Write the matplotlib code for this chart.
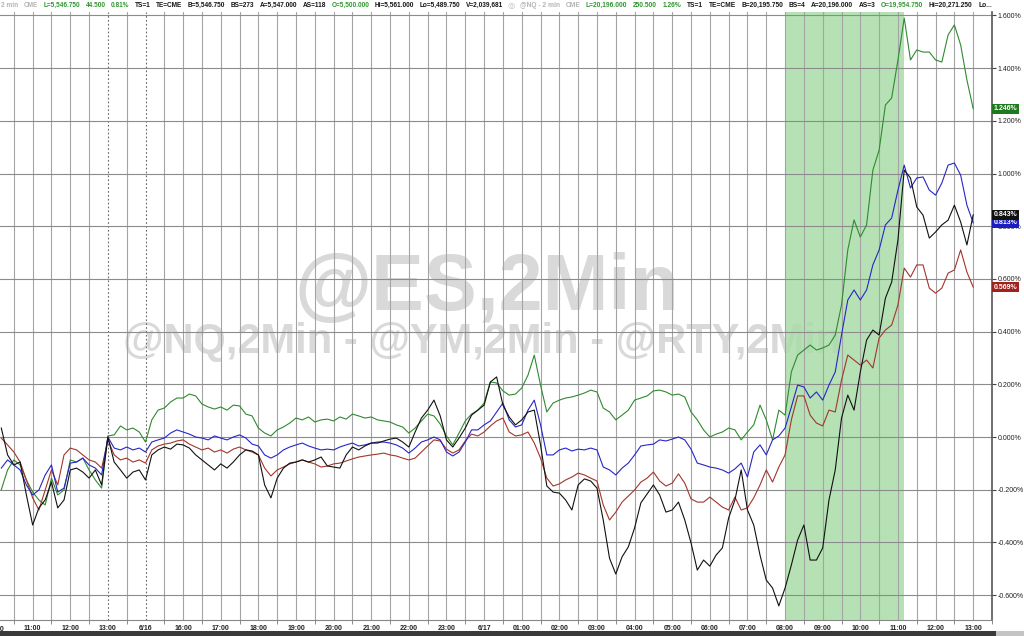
import numpy as np
import matplotlib.pyplot as plt
from matplotlib.patches import Rectangle
from matplotlib import transforms

# ten-minute samples, x counted in hours from the 10:00 start of the chart
step = 1 / 6

# percent change
nq = [-0.20, -0.125, -0.087, -0.106, -0.163, -0.209, -0.239, -0.258, -0.156, -0.220,
      -0.201, -0.087, -0.095, -0.080, -0.125, -0.163, -0.194, 0.004, 0.008, 0.042,
      0.027, 0.034, 0.019, -0.019, 0.065, 0.102, 0.110, 0.133, 0.148, 0.148,
      0.163, 0.156, 0.125, 0.114, 0.106, 0.114, 0.102, 0.121, 0.118, 0.087,
      0.080, 0.034, 0.015, 0.004, 0.027, 0.038, 0.053, 0.072, 0.065, 0.076,
      0.057, 0.065, 0.068, 0.061, 0.076, 0.068, 0.087, 0.080, 0.072, 0.076,
      0.065, 0.061, 0.057, 0.046, 0.038, 0.015, 0.034, 0.061, 0.087, 0.080,
      0.049, 0.004, -0.030, 0.015, 0.061, 0.087, 0.102, 0.129, 0.209, 0.205,
      0.175, 0.159, 0.163, 0.186, 0.235, 0.311, 0.197, 0.095, 0.129, 0.140,
      0.148, 0.152, 0.159, 0.167, 0.178, 0.171, 0.110, 0.095, 0.065, 0.083,
      0.102, 0.140, 0.148, 0.156, 0.175, 0.178, 0.171, 0.159, 0.163, 0.152,
      0.095, 0.065, 0.027, 0.0, 0.011, 0.019, 0.034, 0.027, -0.011, 0.019,
      0.046, 0.121, 0.065, -0.011, 0.102, 0.083, 0.247, 0.311, 0.330, 0.349,
      0.330, 0.338, 0.349, 0.387, 0.501, 0.710, 0.824, 0.759, 0.805, 1.013,
      1.089, 1.260, 1.287, 1.431, 1.590, 1.431, 1.469, 1.461, 1.461, 1.431,
      1.423, 1.526, 1.564, 1.488, 1.355, 1.246]

es = [-0.118, -0.087, -0.106, -0.125, -0.182, -0.220, -0.201, -0.144, -0.106, -0.209,
      -0.194, -0.099, -0.095, -0.080, -0.106, -0.118, -0.144, 0.0, -0.042, -0.049,
      -0.038, -0.049, -0.042, -0.057, -0.019, -0.011, -0.004, 0.015, 0.027, 0.019,
      0.011, 0.0, -0.004, -0.011, 0.004, -0.004, -0.011, 0.0, 0.008, -0.004,
      -0.027, -0.034, -0.068, -0.080, -0.068, -0.049, -0.038, -0.030, -0.023, -0.034,
      -0.042, -0.049, -0.046, -0.049, -0.038, -0.030, -0.023, -0.034, -0.030, -0.023,
      -0.019, -0.019, -0.023, -0.030, -0.042, -0.061, -0.042, -0.019, -0.011, 0.0,
      -0.011, -0.057, -0.072, -0.057, -0.019, 0.027, 0.027, 0.046, 0.061, 0.095,
      0.129, 0.065, 0.038, 0.046, 0.102, 0.140, 0.046, -0.068, -0.068, -0.049,
      -0.042, -0.053, -0.046, -0.049, -0.042, -0.049, -0.114, -0.125, -0.144, -0.118,
      -0.099, -0.068, -0.034, -0.030, -0.027, -0.011, -0.015, -0.008, 0.0, -0.011,
      -0.046, -0.099, -0.106, -0.114, -0.118, -0.125, -0.137, -0.121, -0.099, -0.152,
      -0.057, -0.030, -0.068, -0.011, 0.004, 0.034, 0.114, 0.197, 0.190, 0.148,
      0.171, 0.140, 0.197, 0.247, 0.387, 0.520, 0.558, 0.520, 0.558, 0.653,
      0.710, 0.805, 0.831, 0.937, 1.032, 0.945, 0.983, 0.987, 0.937, 0.918,
      0.964, 1.032, 1.040, 0.994, 0.880, 0.813]

ym = [-0.004, -0.030, -0.057, -0.095, -0.163, -0.231, -0.277, -0.201, -0.125, -0.182,
      -0.068, -0.042, -0.049, -0.068, -0.087, -0.095, -0.118, -0.011, -0.068, -0.087,
      -0.080, -0.095, -0.087, -0.099, -0.049, -0.034, -0.027, -0.023, -0.015, -0.011,
      -0.027, -0.038, -0.049, -0.042, -0.057, -0.049, -0.061, -0.046, -0.038, -0.049,
      -0.057, -0.068, -0.118, -0.148, -0.125, -0.114, -0.102, -0.095, -0.087, -0.095,
      -0.102, -0.114, -0.110, -0.102, -0.099, -0.091, -0.083, -0.076, -0.072, -0.068,
      -0.065, -0.061, -0.068, -0.072, -0.080, -0.087, -0.080, -0.057, -0.034, -0.011,
      -0.015, -0.046, -0.061, -0.049, -0.015, 0.011, 0.004, 0.019, 0.042, 0.061,
      0.072, 0.019, 0.004, 0.008, 0.019, -0.023, -0.080, -0.156, -0.186, -0.178,
      -0.163, -0.152, -0.137, -0.144, -0.156, -0.167, -0.258, -0.315, -0.285, -0.247,
      -0.224, -0.201, -0.171, -0.156, -0.133, -0.167, -0.186, -0.175, -0.140, -0.175,
      -0.235, -0.247, -0.247, -0.228, -0.247, -0.266, -0.277, -0.228, -0.277, -0.269,
      -0.231, -0.182, -0.125, -0.171, -0.114, -0.068, 0.065, 0.156, 0.156, 0.083,
      0.053, 0.042, 0.102, 0.095, 0.216, 0.311, 0.292, 0.273, 0.292, 0.262,
      0.376, 0.406, 0.425, 0.501, 0.641, 0.607, 0.653, 0.653, 0.565, 0.546,
      0.565, 0.622, 0.634, 0.710, 0.626, 0.569]

rty = [0.034, -0.068, -0.106, -0.095, -0.220, -0.334, -0.269, -0.239, -0.171, -0.269,
       -0.239, -0.125, -0.118, -0.133, -0.156, -0.125, -0.182, 0.0, -0.095, -0.125,
       -0.156, -0.133, -0.125, -0.163, -0.068, -0.049, -0.038, -0.046, -0.027, -0.030,
       -0.042, -0.068, -0.087, -0.106, -0.125, -0.102, -0.118, -0.095, -0.068, -0.049,
       -0.053, -0.068, -0.182, -0.231, -0.156, -0.118, -0.099, -0.095, -0.087, -0.095,
       -0.087, -0.076, -0.110, -0.114, -0.118, -0.068, -0.038, -0.049, -0.034, -0.023,
       -0.023, -0.015, -0.008, -0.004, -0.019, -0.038, 0.019, 0.072, 0.102, 0.140,
       0.080, -0.011, -0.038, -0.004, 0.034, 0.083, 0.102, 0.121, 0.209, 0.228,
       0.121, 0.076, 0.046, 0.065, 0.095, 0.102, -0.030, -0.186, -0.209, -0.213,
       -0.239, -0.277, -0.182, -0.159, -0.167, -0.194, -0.315, -0.460, -0.520, -0.455,
       -0.417, -0.345, -0.250, -0.216, -0.182, -0.220, -0.285, -0.277, -0.247, -0.315,
       -0.402, -0.505, -0.467, -0.490, -0.448, -0.421, -0.307, -0.239, -0.125, -0.277,
       -0.334, -0.448, -0.543, -0.573, -0.641, -0.573, -0.486, -0.391, -0.334, -0.467,
       -0.467, -0.421, -0.239, -0.125, 0.072, 0.159, 0.102, 0.247, 0.368, 0.406,
       0.387, 0.527, 0.588, 0.748, 1.013, 0.983, 0.873, 0.842, 0.755, 0.778,
       0.805, 0.823, 0.880, 0.816, 0.729, 0.843]

hour_labels = ['10:00', '11:00', '12:00', '13:00', '6/16', '16:00', '17:00', '18:00',
               '19:00', '20:00', '21:00', '22:00', '23:00', '6/17', '01:00', '02:00',
               '03:00', '04:00', '05:00', '06:00', '07:00', '08:00', '09:00', '10:00',
               '11:00', '12:00', '13:00']
pct_ticks = [-0.6, -0.4, -0.2, 0.0, 0.2, 0.4, 0.6, 0.8, 1.0, 1.2, 1.4, 1.6]
session_breaks = [3, 4]
shade = (21.0, 24.15)

GREY, GREEN, BLACK = '#b4b4b4', '#2f962f', '#151515'
hdr_es = [('2 min', GREY), ('CME', GREY), ('L=5,546.750', GREEN), ('44.500', GREEN),
          ('0.81%', GREEN), ('TS=1', BLACK), ('TE=CME', BLACK), ('B=5,546.750', BLACK),
          ('BS=273', BLACK), ('A=5,547.000', BLACK), ('AS=118', BLACK),
          ('O=5,500.000', GREEN), ('Hi=5,561.000', BLACK), ('Lo=5,489.750', BLACK),
          ('V=2,039,681', BLACK)]
hdr_nq = [('@NQ - 2 min', GREY), ('CME', GREY), ('L=20,196.000', GREEN), ('250.500', GREEN),
          ('1.26%', GREEN), ('TS=1', BLACK), ('TE=CME', BLACK), ('B=20,195.750', BLACK),
          ('BS=4', BLACK), ('A=20,196.000', BLACK), ('AS=3', BLACK),
          ('O=19,954.750', GREEN), ('Hi=20,271.250', BLACK), ('Lo...', BLACK)]

small = ['Liberation Sans', 'DejaVu Sans']
W, H = 1024, 636

fig = plt.figure(figsize=(W / 100, H / 100), dpi=100)
ax = fig.add_axes([0, 16 / H, 992 / W, 608 / H])
ax.set_facecolor('white')

# watermark, under everything else
ax.text(0.491, 0.543, '@ES,2Min', transform=ax.transAxes, ha='center', va='center',
        fontsize=57, fontweight='bold', color='#d9d9d9', family='Liberation Sans', zorder=0.2)
ax.text(0.486, 0.457, '@NQ,2Min - @YM,2Min - @RTY,2Min', transform=ax.transAxes,
        ha='center', va='center', fontsize=30, fontweight='bold', color='#d9d9d9',
        family='Liberation Sans', zorder=0.2)

ax.axvspan(*shade, facecolor='#a8dca8', alpha=0.85, lw=0, zorder=0.8)

for k in range(1, 53):
    tt = k * 0.5
    if tt in session_breaks:
        ax.axvline(tt, color='#666666', lw=0.8, ls=(0, (1.5, 2)), zorder=1)
    else:
        ax.axvline(tt, color='#a4a4a4', lw=0.8, zorder=1)
for v in pct_ticks:
    ax.axhline(v, color='#8c8c8c', lw=0.8, zorder=1)

series = [(nq, '#2f8a2f'), (ym, '#a3352b'), (es, '#2626c8'), (rty, '#111111')]
for s, c in series:
    t = np.arange(1, len(s) + 1) * step
    ax.plot(t, s, color=c, lw=0.8, zorder=3)

ax.set_xlim(0.132, 26.306)
ax.set_ylim(-0.6945, 1.613)

ax.set_xticks(np.arange(1, len(hour_labels)))
ax.set_xticklabels(hour_labels[1:], fontsize=5, family=small, color='#222222',
                   fontweight='bold')
ax.set_xticks(np.arange(0.5, 26.6, 1), minor=True)
ax.tick_params(axis='x', which='major', length=0, pad=3.5)
ax.tick_params(axis='x', which='minor', length=3, color='#777777', direction='out')
blend = transforms.blended_transform_factory(ax.transData, ax.transAxes)
ax.text(0, -0.0105, hour_labels[0], transform=blend, ha='center', va='top', fontsize=5,
        family=small, color='#222222', fontweight='bold', clip_on=False)

ax.yaxis.tick_right()
ax.set_yticks(pct_ticks)
ax.set_yticklabels([f'{v:.3f}%' for v in pct_ticks], fontsize=5, family=small,
                   color='#222222')
ax.tick_params(axis='y', length=3, width=0.8, color='#444444', pad=1)

for side in ['left', 'top']:
    ax.spines[side].set_visible(False)
ax.spines['right'].set_color('#555555')
ax.spines['right'].set_linewidth(1.2)
ax.spines['bottom'].set_color('#888888')
ax.spines['bottom'].set_linewidth(0.8)

# last-value badges on the price scale
badges = [(nq, '#1e7a1e'), (ym, '#a0221c'), (es, '#1c1cc0'), (rty, '#111111')]
for s, c in badges:
    ax.annotate(f'{s[-1]:.3f}%', xy=(1, s[-1]), xycoords=('axes fraction', 'data'),
                xytext=(1.2, 0), textcoords='offset points', ha='left', va='center',
                fontsize=5, fontweight='bold', color='white', family=small,
                bbox=dict(boxstyle='square,pad=0.2', fc=c, ec='none'),
                annotation_clip=False, zorder=10)


def header(segs, x0, x1, y, gap=5.0, size=6.0):
    r = fig.canvas.get_renderer()
    texts = [fig.text(0, y, s, color=c, fontsize=size, fontweight='bold', family=small,
                      va='center', ha='left') for s, c in segs]
    natural = sum(tx.get_window_extent(r).width for tx in texts)
    room = x1 - x0 - gap * (len(texts) - 1)
    if natural > room:
        for tx in texts:
            tx.set_fontsize(size * room / natural)
    widths = [tx.get_window_extent(r).width for tx in texts]
    spacing = (x1 - x0 - sum(widths)) / (len(texts) - 1)
    x = x0
    for tx, w in zip(texts, widths):
        tx.set_x(x / W)
        x += w + spacing


hy = 1 - 5.5 / H
header(hdr_es, 1, 503, hy)
fig.text(508 / W, hy, '\u25ce', color='#c0c0c0', fontsize=6, va='center', ha='left',
         family='DejaVu Sans')
header(hdr_nq, 520, 992, hy)

# dark footer strip
fig.patches.append(Rectangle((0, 0), 1, 5 / H, transform=fig.transFigure,
                             facecolor='#3a3a3a', edgecolor='none'))
fig.patches.append(Rectangle((996 / W, 0), 28 / W, 5 / H, transform=fig.transFigure,
                             facecolor='#c4c4c4', edgecolor='none'))

fig.savefig('out.png', dpi=100)
